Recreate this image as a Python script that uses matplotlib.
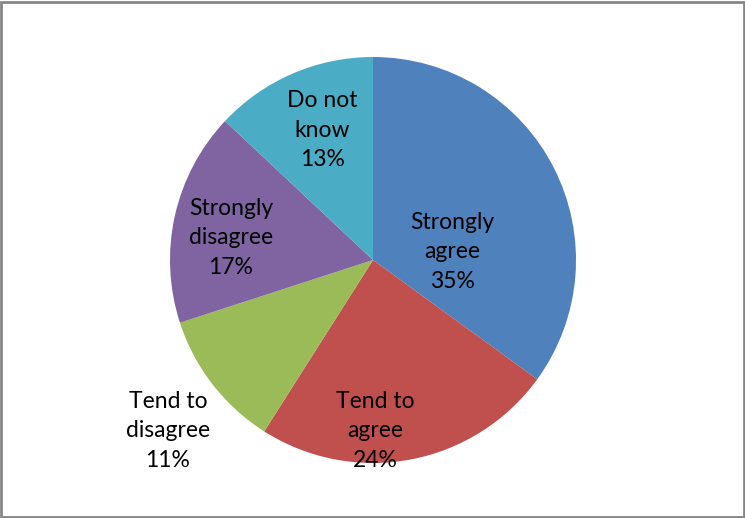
import matplotlib.pyplot as plt
from matplotlib.patches import Rectangle

# ---------------- Data ----------------
labels = ["Strongly\nagree", "Tend to\nagree", "Tend to\ndisagree",
          "Strongly\ndisagree", "Do not\nknow"]
shares = [35, 24, 11, 17, 13]
colors = ["#4F81BD", "#C0504D", "#9BBB59", "#8064A2", "#4BACC6"]

# label placement in radius units (Excel "best fit")
label_pos = [(0.39, 0.04), (0.01, -0.84), (-1.01, -0.84), (-0.70, 0.11), (-0.25, 0.64)]

fig = plt.figure(figsize=(7.45, 5.18), dpi=100)
ax = fig.add_axes([170 / 745, 55 / 518, 406 / 745, 406 / 518])

ax.pie(shares, colors=colors, startangle=90, counterclock=False, radius=1.0,
       wedgeprops=dict(linewidth=0))

for lab, val, (x, y) in zip(labels, shares, label_pos):
    ax.text(x, y, f"{lab}\n{val}%", ha="center", va="center",
            fontsize=16.5, family=["Lato", "DejaVu Sans"], linespacing=1.5,
            color="black")

ax.set_xlim(-1, 1)
ax.set_ylim(-1, 1)
ax.set_aspect("equal")
ax.axis("off")

# chart frame
fig.patches.append(Rectangle((0.001, 0.002), 0.997, 0.995, transform=fig.transFigure,
                             fill=False, edgecolor="#868686", linewidth=2))

fig.savefig("out.png", dpi=100)
